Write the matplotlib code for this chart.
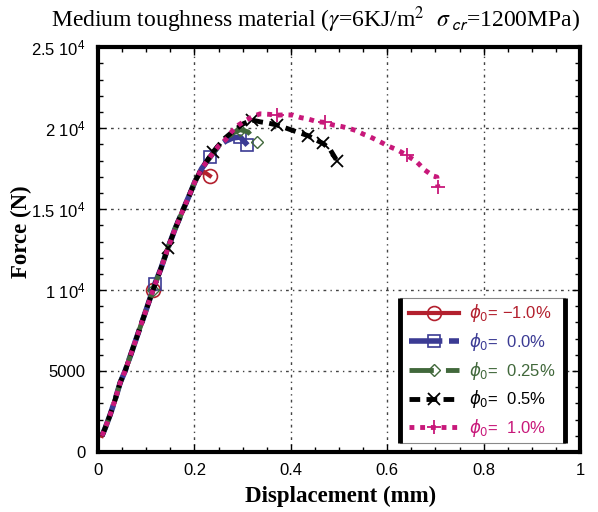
import matplotlib
matplotlib.use('Agg')
import matplotlib.pyplot as plt
from matplotlib.ticker import MultipleLocator, FixedLocator, FixedFormatter
from matplotlib.patches import Rectangle

# force-displacement curves for several initial porosities
red_x = [0.008, 0.015, 0.025, 0.035, 0.046, 0.056, 0.07, 0.085, 0.10, 0.114,
         0.13, 0.145, 0.16, 0.177, 0.19, 0.201, 0.212, 0.22, 0.232]
red_y = [1000, 1500, 2300, 3200, 4300, 5000, 6200, 7500, 8800, 10000,
         11300, 12600, 13800, 15000, 15900, 16700, 17200, 17300, 17050]

blue_x = [0.008, 0.015, 0.025, 0.035, 0.046, 0.056, 0.07, 0.085, 0.10, 0.118,
          0.13, 0.145, 0.16, 0.177, 0.19, 0.201, 0.215, 0.232, 0.25, 0.265,
          0.28, 0.295, 0.31]
blue_y = [1000, 1500, 2300, 3200, 4300, 5000, 6200, 7500, 8800, 10400,
          11300, 12600, 13800, 15000, 15900, 16700, 17500, 18200, 18900, 19200,
          19400, 19450, 18950]

green_x = [0.008, 0.015, 0.025, 0.035, 0.046, 0.056, 0.07, 0.085, 0.10, 0.114,
           0.13, 0.145, 0.16, 0.177, 0.19, 0.201, 0.215, 0.232, 0.25, 0.265,
           0.28, 0.295, 0.311, 0.329]
green_y = [1000, 1500, 2300, 3200, 4300, 5000, 6200, 7500, 8800, 10000,
           11300, 12600, 13800, 15000, 15900, 16700, 17500, 18200, 18900, 19300,
           19700, 19900, 19770, 19150]

black_x = [0.008, 0.015, 0.025, 0.035, 0.046, 0.056, 0.07, 0.085, 0.10, 0.114,
           0.13, 0.145, 0.16, 0.177, 0.19, 0.201, 0.215, 0.239, 0.26, 0.28,
           0.30, 0.319, 0.336, 0.355, 0.371, 0.39, 0.412, 0.436, 0.45, 0.467,
           0.481, 0.496]
black_y = [1000, 1500, 2300, 3200, 4300, 5000, 6200, 7500, 8800, 10000,
           11300, 12600, 13800, 15000, 15900, 16700, 17500, 18540, 19300, 19800,
           20250, 20500, 20390, 20300, 20190, 20000, 19770, 19530, 19300, 19050,
           18700, 17960]

pink_x = [0.008, 0.015, 0.025, 0.035, 0.046, 0.056, 0.07, 0.085, 0.10, 0.114,
          0.13, 0.145, 0.16, 0.177, 0.19, 0.201, 0.215, 0.232, 0.25, 0.265,
          0.28, 0.292, 0.305, 0.32, 0.336, 0.355, 0.371, 0.39, 0.405, 0.42,
          0.436, 0.454, 0.471, 0.488, 0.505, 0.519, 0.535, 0.55, 0.565, 0.578,
          0.59, 0.602, 0.622, 0.64, 0.661, 0.678, 0.695, 0.703, 0.705]
pink_y = [1000, 1500, 2300, 3200, 4300, 5000, 6200, 7500, 8800, 10000,
          11300, 12600, 13800, 15000, 15900, 16700, 17500, 18200, 18900, 19300,
          19880, 20200, 20450, 20700, 20880, 20850, 20800, 20820, 20800, 20650,
          20560, 20400, 20350, 20190, 20100, 20000, 19850, 19630, 19450, 19260,
          19080, 18890, 18640, 18330, 17920, 17410, 17050, 16980, 16360]

labels = ['= \u22121.0%', '=  0.0%', '=  0.25%', '=  0.5%', '=  1.0%']
colors = ['#b3202e', '#3b3b94', '#41683b', '#000000', '#c8187a']

y_ticks = [0, 5000, 10000, 15000, 20000, 25000]
y_ticklabels = ['0', '5000', r'1 $\mathregular{10^4}$', r'1.5 $\mathregular{10^4}$',
                r'2 $\mathregular{10^4}$', r'2.5 $\mathregular{10^4}$']

plt.rcParams['font.family'] = ['Liberation Sans', 'DejaVu Sans']
plt.rcParams['mathtext.fontset'] = 'dejavusans'

fig = plt.figure(figsize=(5.98, 5.12), dpi=100)
ax = fig.add_axes([0.164, 0.117, 0.806, 0.791])

series = [
    (red_x, red_y, dict(ls='-', lw=3, marker='o', ms=10, mew=1.2,
                        markevery=[9, 18])),
    (blue_x, blue_y, dict(ls='-', dashes=(6, 1.2), lw=4, marker='s', ms=8,
                          mew=1.2, markevery=[9, 17, 21, 22])),
    (green_x, green_y, dict(ls='-', dashes=(5, 2.5), lw=3.5, marker='D', ms=6,
                            markevery=[9, 21, 23])),
    (black_x, black_y, dict(ls='-', dashes=(2.2, 1.3), lw=3.5, marker='x', ms=8,
                            mew=1.3, markevery=[11, 17, 21, 24, 27, 29, 31])),
    (pink_x, pink_y, dict(ls='-', dashes=(1, 1.2), lw=3.5, marker='+', ms=10,
                          mew=1.3, markevery=[26, 32, 43, 48])),
]

handles = []
for (xs, ys, style), lab, c in zip(series, labels, colors):
    h, = ax.plot(xs, ys, color=c, mfc='white', mec=c, label=r'$\phi_0$' + lab,
                 **style)
    if style['marker'] in ('o', 's', 'D'):
        h.set_markerfacecolor('none')
    handles.append(h)

ax.set_xlim(0, 1)
ax.set_ylim(0, 25000)
ax.xaxis.set_minor_locator(MultipleLocator(0.05))
ax.set_xticks([0, 0.2, 0.4, 0.6, 0.8, 1.0])
ax.set_xticklabels(['0', '0.2', '0.4', '0.6', '0.8', '1'])
ax.yaxis.set_major_locator(FixedLocator(y_ticks))
ax.yaxis.set_major_formatter(FixedFormatter(y_ticklabels))
ax.yaxis.set_minor_locator(MultipleLocator(1000))

ax.tick_params(which='both', direction='in', top=True, right=True,
               labelsize=12, width=1)
ax.tick_params(which='major', length=6)
ax.tick_params(which='minor', length=3.5)
ax.tick_params(axis='y', pad=9)
ax.tick_params(axis='x', pad=8)
for s in ax.spines.values():
    s.set_linewidth(3)

ax.grid(True, which='major', color='#444444', lw=1, linestyle=(0, (2, 3, 1, 3)))
ax.set_axisbelow(True)

# legend box: thin top/bottom edges, heavy sides
lx0, ly0, lw_, lh = 0.627, 0.022, 0.342, 0.358
ax.add_patch(Rectangle((lx0, ly0), lw_, lh, transform=ax.transAxes,
                       facecolor='white', edgecolor='#888888', lw=0.8, zorder=5))
ax.plot([lx0, lx0], [ly0, ly0 + lh], transform=ax.transAxes, color='black',
        lw=3.5, zorder=6, solid_capstyle='butt')
ax.plot([lx0 + lw_, lx0 + lw_], [ly0, ly0 + lh], transform=ax.transAxes,
        color='black', lw=3.5, zorder=6, solid_capstyle='butt')
leg = ax.legend(handles=handles, loc='center',
                bbox_to_anchor=(lx0, ly0, lw_, lh), frameon=False,
                fontsize=12, handlelength=3.0, handletextpad=0.6,
                labelspacing=0.4, borderaxespad=0)
leg.set_zorder(7)
for t, c in zip(leg.get_texts(), colors):
    t.set_color(c)

fig.text(0.527, 0.962,
         r'Medium toughness material ($\gamma$=6KJ/m$^2$  $\sigma_{\ \mathsf{cr}}$=1200MPa)',
         ha='center', va='center', fontsize=17, family='Liberation Serif',
         math_fontfamily='stix')
fig.text(0.036, 0.547, 'Force (N)', rotation=90, ha='center', va='center',
         fontsize=16.5, fontweight='bold', family='Liberation Serif')
fig.text(0.569, 0.030, 'Displacement (mm)', ha='center', va='center',
         fontsize=16.5, fontweight='bold', family='Liberation Serif')

fig.savefig('out.png', dpi=100)
